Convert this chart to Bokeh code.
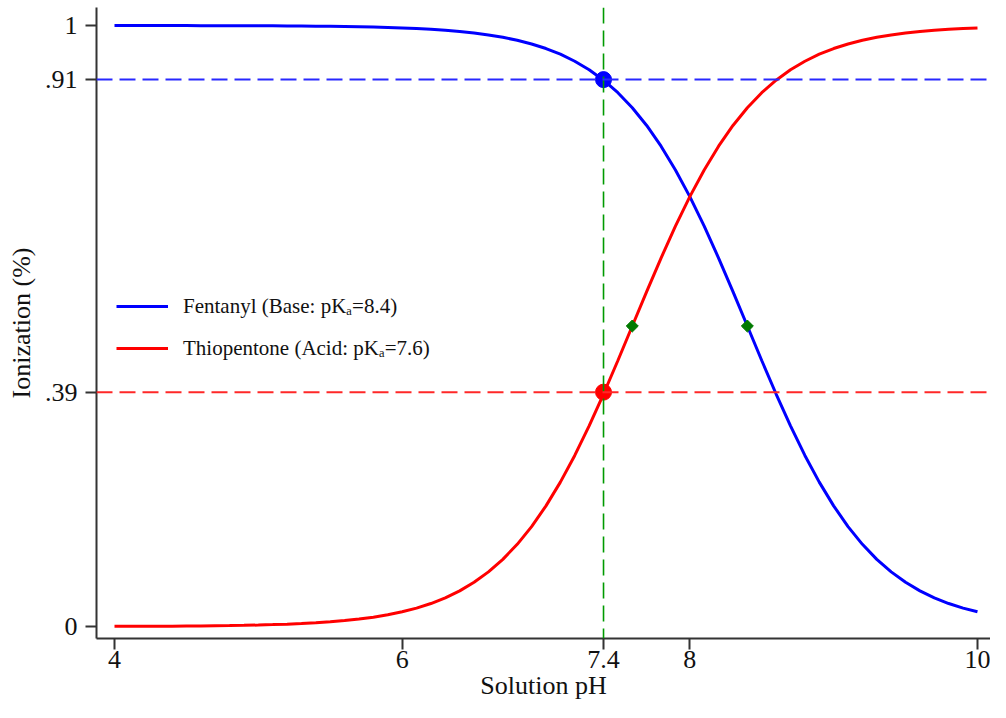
from bokeh.plotting import figure
from bokeh.models import Range1d, FixedTicker, Span, Legend, LegendItem, ColumnDataSource
from bokeh.embed import file_html
from bokeh.resources import INLINE
import math

# ---- data ----
ph = [4.0, 4.1, 4.2, 4.3, 4.4, 4.5, 4.6, 4.7, 4.8, 4.9,
      5.0, 5.1, 5.2, 5.3, 5.4, 5.5, 5.6, 5.7, 5.8, 5.9,
      6.0, 6.1, 6.2, 6.3, 6.4, 6.5, 6.6, 6.7, 6.8, 6.9,
      7.0, 7.1, 7.2, 7.3, 7.4, 7.5, 7.6, 7.7, 7.8, 7.9,
      8.0, 8.1, 8.2, 8.3, 8.4, 8.5, 8.6, 8.7, 8.8, 8.9,
      9.0, 9.1, 9.2, 9.3, 9.4, 9.5, 9.6, 9.7, 9.8, 9.9, 10.0]

fentanyl = [1.0000, 1.0000, 0.9999, 0.9999, 0.9999, 0.9999, 0.9998, 0.9998, 0.9997, 0.9997,
            0.9996, 0.9995, 0.9994, 0.9992, 0.9990, 0.9987, 0.9984, 0.9980, 0.9975, 0.9968,
            0.9960, 0.9950, 0.9937, 0.9921, 0.9901, 0.9876, 0.9844, 0.9804, 0.9755, 0.9693,
            0.9617, 0.9523, 0.9406, 0.9264, 0.9091, 0.8882, 0.8632, 0.8337, 0.7992, 0.7597,
            0.7153, 0.6661, 0.6131, 0.5573, 0.5000, 0.4427, 0.3869, 0.3339, 0.2847, 0.2403,
            0.2008, 0.1663, 0.1368, 0.1118, 0.0909, 0.0736, 0.0594, 0.0477, 0.0383, 0.0307, 0.0245]

thiopentone = [0.0003, 0.0003, 0.0004, 0.0005, 0.0006, 0.0008, 0.0010, 0.0013, 0.0016, 0.0020,
               0.0025, 0.0032, 0.0040, 0.0050, 0.0063, 0.0079, 0.0099, 0.0124, 0.0156, 0.0196,
               0.0245, 0.0307, 0.0383, 0.0477, 0.0594, 0.0736, 0.0909, 0.1118, 0.1368, 0.1663,
               0.2008, 0.2403, 0.2847, 0.3339, 0.3869, 0.4427, 0.5000, 0.5573, 0.6131, 0.6661,
               0.7153, 0.7597, 0.7992, 0.8337, 0.8632, 0.8882, 0.9091, 0.9264, 0.9406, 0.9523,
               0.9617, 0.9693, 0.9755, 0.9804, 0.9844, 0.9876, 0.9901, 0.9921, 0.9937, 0.9950, 0.9960]

solution_ph = 7.4
fent_at_ph = 0.91
thio_at_ph = 0.39
pka_x = [7.6, 8.4]
pka_y = [0.5, 0.5]

x_ticks = [4, 6, 7.4, 8, 10]
x_tick_labels = ["4", "6", "7.4", "8", "10"]
y_ticks = [0, 0.39, 0.91, 1]
y_tick_labels = ["0", ".39", ".91", "1"]

labels = ["Fentanyl (Base: pK\u2090=8.4)", "Thiopentone (Acid: pK\u2090=7.6)"]

FONT = "Liberation Serif"

p = figure(width=990, height=702, output_backend="svg", toolbar_location=None,
           x_range=Range1d(3.8749, 10.0905), y_range=Range1d(-0.0199, 1.0300),
           min_border_left=96, min_border_right=0, min_border_top=7, min_border_bottom=64)
p.outline_line_color = None
p.xgrid.visible = False
p.ygrid.visible = False
p.background_fill_color = "white"

# reference lines
p.add_layout(Span(location=solution_ph, dimension="height", line_color="#009a00",
                  line_width=1.6, line_dash="16 7"))
p.add_layout(Span(location=fent_at_ph, dimension="width", line_color="#2828ff",
                  line_width=2, line_dash="16 7"))
p.add_layout(Span(location=thio_at_ph, dimension="width", line_color="#ff2828",
                  line_width=2, line_dash="16 7"))

src = ColumnDataSource(dict(ph=ph, f=fentanyl, t=thiopentone))
r_f = p.line("ph", "f", source=src, line_color="#0000ff", line_width=3)
r_t = p.line("ph", "t", source=src, line_color="#ff0000", line_width=3)

p.scatter([solution_ph], [fent_at_ph], marker="circle", size=16, color="#0000ff")
p.scatter([solution_ph], [thio_at_ph], marker="circle", size=16, color="#ff0000")
p.scatter(pka_x, pka_y, marker="square", size=8.5, angle=math.pi / 4, color="#007a00")

legend = Legend(items=[LegendItem(label=labels[0], renderers=[r_f]),
                       LegendItem(label=labels[1], renderers=[r_t])],
                location=(20, 272), padding=0, margin=0, spacing=6,
                glyph_width=52, glyph_height=36, label_height=36, label_standoff=15,
                label_text_font=FONT, label_text_font_size="21px",
                label_text_color="#111111",
                border_line_alpha=0, background_fill_alpha=0)
p.add_layout(legend)

# axes
p.xaxis.ticker = FixedTicker(ticks=x_ticks)
p.xaxis.major_label_overrides = {t: l for t, l in zip(x_ticks, x_tick_labels)}
p.yaxis.ticker = FixedTicker(ticks=y_ticks)
p.yaxis.major_label_overrides = {t: l for t, l in zip(y_ticks, y_tick_labels)}
p.xaxis.axis_label = "Solution pH"
p.yaxis.axis_label = "Ionization (%)"
for ax in (p.xaxis, p.yaxis):
    ax.axis_label_text_font = FONT
    ax.axis_label_text_font_size = "26px"
    ax.axis_label_text_font_style = "normal"
    ax.axis_label_text_color = "#111111"
    ax.major_label_text_font = FONT
    ax.major_label_text_font_size = "26px"
    ax.major_label_text_color = "#111111"
    ax.axis_line_color = "#333333"
    ax.axis_line_width = 2
    ax.major_tick_line_color = "#333333"
    ax.major_tick_line_width = 2
    ax.major_tick_out = 11
    ax.major_tick_in = 0
    ax.minor_tick_line_color = None
p.yaxis.major_label_orientation = "horizontal"
p.yaxis.major_label_standoff = 8
p.yaxis.axis_label_standoff = 6
p.xaxis.major_label_standoff = 1
p.xaxis.axis_label_standoff = 0

open("out.html", "w").write(file_html(p, INLINE))
